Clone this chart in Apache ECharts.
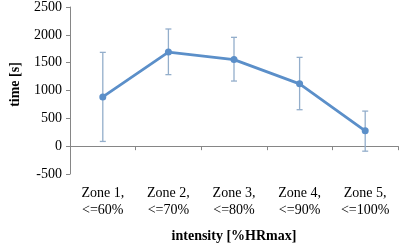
<!DOCTYPE html>
<html>
<head>
<meta charset="utf-8">
<script src="https://cdn.jsdelivr.net/npm/echarts@6/dist/echarts.min.js"></script>
<style>
  html, body { margin: 0; padding: 0; background: #fff; }
  #chart { width: 400px; height: 248px; }
</style>
</head>
<body>
<div id="chart"></div>
<script>
var zones = ["Zone 1,\n<=60%", "Zone 2,\n<=70%", "Zone 3,\n<=80%", "Zone 4,\n<=90%", "Zone 5,\n<=100%"];
var meanTime = [885, 1690, 1555, 1120, 275];
var errLow = [85, 1285, 1170, 655, -90];
var errHigh = [1685, 2105, 1955, 1595, 630];

var chart = echarts.init(document.getElementById("chart"));
var font = "Liberation Serif";

var option = {
  animation: false,
  grid: { left: 66, right: 2, top: 7, bottom: 39 },
  xAxis: {
    type: "category",
    data: zones,
    name: "intensity [%HRmax]",
    nameLocation: "middle",
    nameGap: 55,
    nameTextStyle: { fontFamily: font, fontSize: 14, fontWeight: "bold", color: "#000" },
    axisLine: { onZero: true, lineStyle: { color: "#868686" } },
    axisTick: { show: true, length: 4, lineStyle: { color: "#868686" } },
    axisLabel: { interval: 0, fontFamily: font, fontSize: 14, color: "#000", lineHeight: 17, margin: 11 }
  },
  yAxis: {
    type: "value",
    min: -500,
    max: 2500,
    interval: 500,
    name: "time [s]",
    nameLocation: "middle",
    nameGap: 48,
    nameTextStyle: { fontFamily: font, fontSize: 14, fontWeight: "bold", color: "#000", padding: [0, 0, 0, 12] },
    axisLine: { show: true, lineStyle: { color: "#868686" } },
    axisTick: { show: true, length: 4, lineStyle: { color: "#868686" } },
    splitLine: { show: false },
    axisLabel: {
      fontFamily: font, fontSize: 14, color: "#000", margin: 8,
      formatter: function (v) { return String(v); }
    }
  },
  series: [
    {
      type: "custom",
      z: 1,
      renderItem: function (params, api) {
        var x = api.value(0);
        var lo = api.coord([x, api.value(1)]);
        var hi = api.coord([x, api.value(2)]);
        var w = 3;
        var style = { stroke: "#93aecb", lineWidth: 1.3 };
        return {
          type: "group",
          children: [
            { type: "line", shape: { x1: lo[0], y1: lo[1], x2: hi[0], y2: hi[1] }, style: style },
            { type: "line", shape: { x1: lo[0] - w, y1: lo[1], x2: lo[0] + w, y2: lo[1] }, style: style },
            { type: "line", shape: { x1: hi[0] - w, y1: hi[1], x2: hi[0] + w, y2: hi[1] }, style: style }
          ]
        };
      },
      encode: { x: 0, y: [1, 2] },
      data: zones.map(function (z, i) { return [i, errLow[i], errHigh[i]]; })
    },
    {
      type: "line",
      z: 2,
      data: meanTime,
      symbol: "circle",
      symbolSize: 7,
      lineStyle: { color: "#5b8fc9", width: 2.8 },
      itemStyle: { color: "#5b8fc9" }
    }
  ]
};
chart.setOption(option);
</script>
</body>
</html>
